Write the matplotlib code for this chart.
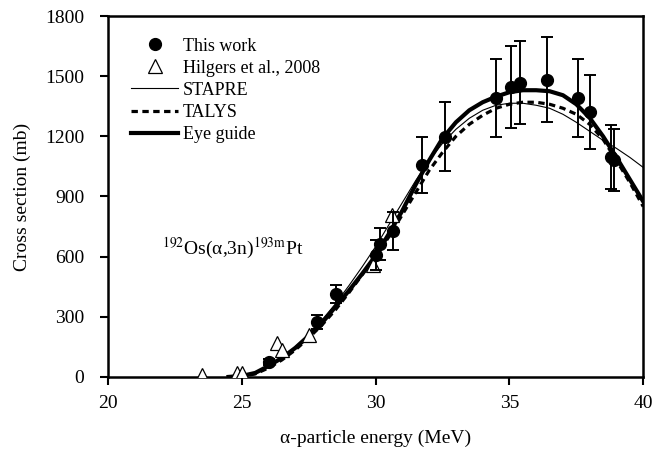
import matplotlib
matplotlib.use("Agg")
import matplotlib.pyplot as plt
import numpy as np

plt.rcParams['font.family'] = ['Liberation Serif', 'DejaVu Serif']
plt.rcParams['mathtext.fontset'] = 'stix'

# datos experimentales (este trabajo)
e_work = [26.0, 27.8, 28.5, 30.0, 30.15, 30.65, 31.75, 32.6, 34.5, 35.05,
          35.4, 36.4, 37.55, 38.0, 38.8, 38.9]
s_work = [75, 276, 412, 608, 665, 730, 1055, 1198, 1390, 1447,
          1468, 1483, 1390, 1320, 1098, 1080]
err_work = [15, 35, 45, 75, 80, 95, 140, 172, 195, 205,
            205, 210, 195, 185, 160, 155]

# Hilgers et al., 2008
e_hil = [23.5, 24.8, 25.0, 26.3, 26.5, 27.5, 29.9, 30.6]
s_hil = [10, 20, 20, 170, 135, 210, 560, 810]

# curvas teoricas
e_curve = [24.5, 25.0, 25.5, 26.0, 26.5, 27.0, 27.5, 28.0, 28.5, 29.0, 29.5,
           30.0, 30.5, 31.0, 31.5, 32.0, 32.5, 33.0, 33.5, 34.0, 34.5, 35.0,
           35.5, 36.0, 36.5, 37.0, 37.5, 38.0, 38.5, 39.0, 39.5, 40.0]
s_stapre = [0, 5, 20, 50, 95, 150, 215, 285, 365, 455, 550,
            650, 760, 870, 980, 1080, 1165, 1235, 1290, 1330, 1355, 1365,
            1365, 1355, 1340, 1310, 1270, 1225, 1180, 1140, 1095, 1045]
s_talys = [0, 3, 15, 45, 85, 135, 195, 260, 335, 420, 510,
           600, 700, 810, 920, 1030, 1120, 1200, 1260, 1305, 1340, 1360,
           1370, 1370, 1360, 1340, 1310, 1260, 1185, 1080, 970, 850]
s_eye = [0, 5, 20, 55, 95, 145, 205, 270, 350, 430, 515,
         605, 715, 830, 960, 1080, 1190, 1270, 1330, 1370, 1398, 1420,
         1430, 1430, 1425, 1405, 1360, 1292, 1200, 1095, 985, 875]

fig = plt.figure(figsize=(6.55, 4.58), dpi=100)
ax = fig.add_axes([0.165, 0.177, 0.817, 0.788])

ax.plot(e_curve, s_stapre, '-', color='black', lw=0.8, label='STAPRE')
ax.plot(e_curve, s_talys, color='black', lw=2.3, linestyle=(0, (2, 1.4)), label='TALYS')
ax.plot(e_curve, s_eye, '-', color='black', lw=3.0, label='Eye guide')

ax.plot(e_hil, s_hil, '^', mfc='white', mec='black', ms=9.5, mew=0.9,
        label='Hilgers et al., 2008', zorder=3)
ax.errorbar(e_work, s_work, yerr=err_work, fmt='none', ecolor='black',
            elinewidth=1.4, capsize=4.5, capthick=1.4, zorder=4)
ax.plot(e_work, s_work, 'o', color='black', ms=8.5, label='This work', zorder=5)

ax.set_xlim(20, 40)
ax.set_ylim(0, 1800)
ax.set_xticks([20, 25, 30, 35, 40])
ax.set_yticks(np.arange(0, 1801, 300))
ax.tick_params(direction='out', length=6, width=1.5, labelsize=14)
ax.tick_params(axis='y', pad=11)
ax.tick_params(axis='x', pad=7)
for sp in ax.spines.values():
    sp.set_linewidth(1.8)

ax.set_xlabel('α-particle energy (MeV)', fontsize=14, labelpad=13)
ax.set_ylabel('Cross section (mb)', fontsize=14, labelpad=10)

ax.text(22.0, 640, r'$^{192}$Os(α,3n)$^{\rm 193m}$Pt', fontsize=14, va='center')

h, l = ax.get_legend_handles_labels()
orden = [4, 3, 0, 1, 2]
ax.legend([h[i] for i in orden], [l[i] for i in orden], loc='upper left',
          frameon=False, fontsize=13, handlelength=2.6, handletextpad=0.25,
          labelspacing=0.28, borderaxespad=0.6, bbox_to_anchor=(0.01, 0.99))

fig.savefig('out.png', dpi=100)
